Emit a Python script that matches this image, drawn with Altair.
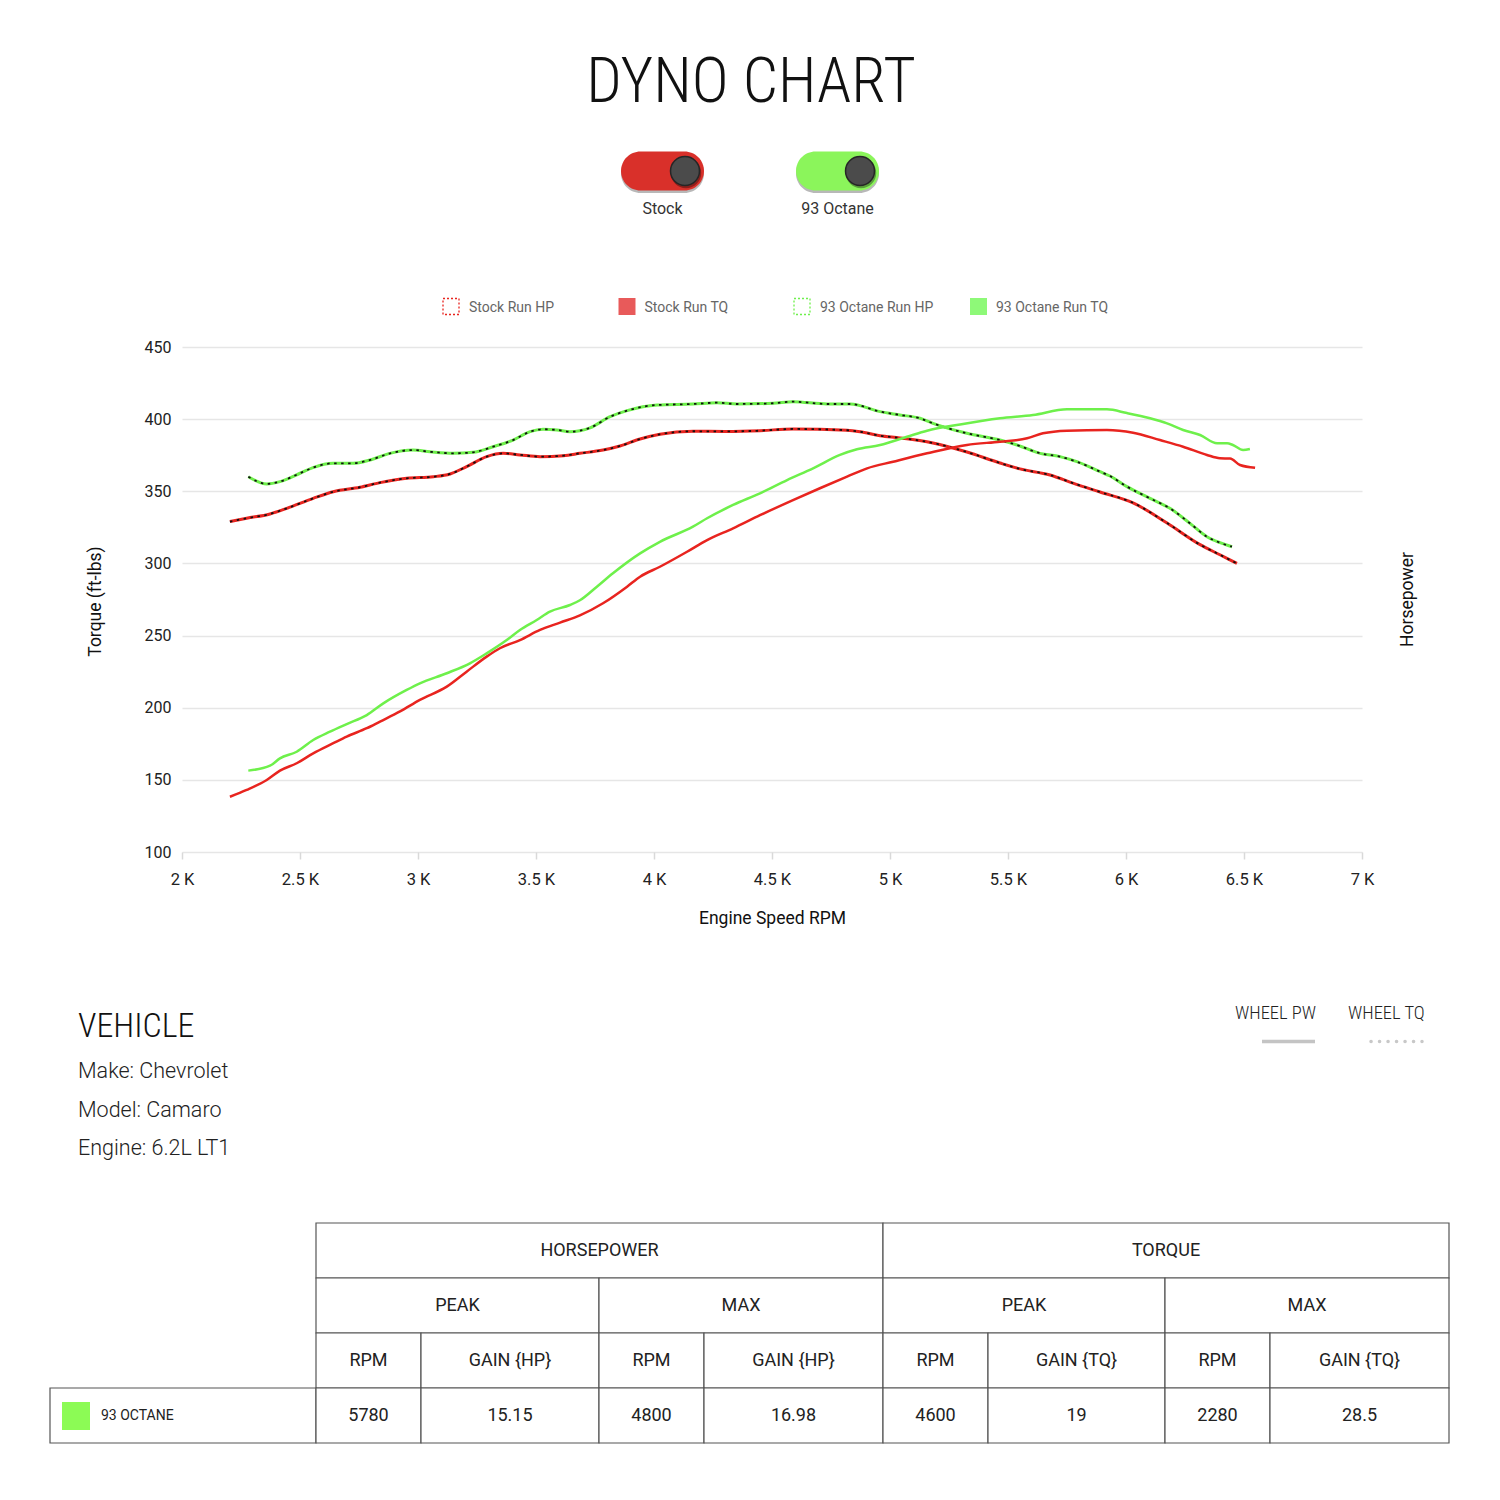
import altair as alt
import pandas as pd

# ---------------- chart values ----------------
chart_title = "DYNO CHART"
toggle_labels = ["Stock", "93 Octane"]
series_names = ["Stock Run HP", "Stock Run TQ", "93 Octane Run HP", "93 Octane Run TQ"]
x_title = "Engine Speed RPM"
y_left_title = "Torque (ft-lbs)"
y_right_title = "Horsepower"
x_ticks = [2000, 2500, 3000, 3500, 4000, 4500, 5000, 5500, 6000, 6500, 7000]
y_ticks = [100, 150, 200, 250, 300, 350, 400, 450]

stock_tq_rpm = [2203, 2274, 2373, 2444, 2556, 2641, 2754, 2839, 2952, 3065,
                3136, 3206, 3291, 3361, 3432, 3517, 3616, 3686, 3784, 3856,
                3941, 4025, 4165, 4300, 4449, 4589, 4818, 4873, 4958, 5042, 5182,
                5326, 5466, 5551, 5678, 5775, 5890, 6030, 6174, 6314, 6398, 6470]
stock_tq = [329, 331.3, 334.3, 338.2, 345.1, 349.7, 352.8, 356, 359, 360.1,
            362, 367.1, 374, 376.3, 375.2, 374, 374.7, 376.3, 378.6, 381.4,
            386.2, 389.5, 391.6, 391.5, 392, 393.2, 392.3, 391.3, 388.5, 387, 383.5,
            377.2, 369.6, 365.5, 361.3, 355.7, 349.5, 342, 328, 313, 306, 300]

octane_tq_rpm = [2281, 2359, 2415, 2500, 2555, 2640, 2725, 2797, 2881, 2979,
                 3051, 3148, 3233, 3318, 3403, 3475, 3530, 3589, 3644, 3729,
                 3814, 3886, 4013, 4165, 4267, 4352, 4504, 4589, 4733, 4831,
                 4958, 5042, 5127, 5182, 5326, 5466, 5538, 5636, 5720, 5792,
                 5890, 5932, 6004, 6102, 6186, 6271, 6343, 6398, 6449]
octane_tq = [360.1, 355.1, 356.7, 362.5, 366.4, 369.4, 369.4, 371.7, 376.3, 378.6,
             377.4, 376.3, 377, 380.9, 385.5, 391.3, 393, 392.5, 391.3, 394,
             401.7, 405.9, 409.8, 410.5, 411.4, 410.5, 411, 412.1, 410.5, 410.5,
             405.2, 402.9, 400.6, 397.1, 390.2, 385.5, 382.1, 376.3, 374, 370.5,
             363.6, 360.6, 353.2, 345.1, 338.2, 327.8, 318.5, 314.4, 311.6]

stock_hp_rpm = [2203, 2274, 2359, 2415, 2486, 2556, 2641, 2698, 2783, 2839,
                2924, 3008, 3122, 3206, 3291, 3347, 3432, 3517, 3602, 3686,
                3784, 3886, 3941, 4025, 4140, 4225, 4335, 4449, 4589, 4703,
                4818, 4903, 5013, 5157, 5326, 5466, 5581, 5648, 5750, 5919,
                6030, 6144, 6242, 6343, 6398, 6441, 6483, 6547]
stock_hp = [138.3, 143, 149.9, 156.4, 161.5, 168.4, 175.4, 180, 185.8, 190.4,
            197.4, 205.4, 214.6, 225, 235.4, 241.2, 246.9, 253.9, 259, 264,
            272.4, 283.9, 290.8, 297.7, 308.1, 316.2, 324.3, 333.4, 343.9, 352.1,
            360.1, 365.9, 370.5, 376.3, 382.1, 384.4, 386.7, 390.2, 392, 392.5,
            390.6, 385.5, 380.9, 375.2, 372.9, 372.7, 368.2, 366.3]

octane_hp_rpm = [2281, 2373, 2415, 2486, 2556, 2627, 2698, 2783, 2853, 2952,
                 3008, 3122, 3220, 3291, 3376, 3432, 3503, 3559, 3644, 3686,
                 3758, 3826, 3941, 4025, 4165, 4225, 4335, 4449, 4564, 4674,
                 4788, 4860, 4958, 5072, 5157, 5297, 5466, 5606, 5750, 5919,
                 6004, 6102, 6174, 6242, 6314, 6386, 6428, 6453, 6496, 6525]
octane_hp = [156.4, 159.8, 164.9, 169.5, 177.6, 183.4, 188.7, 194.9, 203, 212.3,
             216.9, 223.9, 230.8, 237.7, 246.9, 253.9, 260.8, 266.6, 271.2, 274.5,
             283.9, 293.2, 307, 315, 325.5, 331.3, 340.5, 348.6, 357.8, 365.9,
             375.2, 379.1, 382.1, 387.8, 392, 396.3, 400.6, 402.9, 406.8, 406.8,
             404.2, 400.6, 397.1, 392.5, 389, 383.3, 383.3, 382.1, 378.6, 379.3]

vehicle_heading = "VEHICLE"
vehicle_lines = ["Make: Chevrolet", "Model: Camaro", "Engine: 6.2L LT1"]
style_labels = ["WHEEL PW", "WHEEL TQ"]

table_groups = ["HORSEPOWER", "TORQUE"]
table_subgroups = ["PEAK", "MAX", "PEAK", "MAX"]
table_columns = ["RPM", "GAIN {HP}", "RPM", "GAIN {HP}", "RPM", "GAIN {TQ}", "RPM", "GAIN {TQ}"]
table_row_label = "93 OCTANE"
table_row_values = ["5780", "15.15", "4800", "16.98", "4600", "19", "2280", "28.5"]

# ---------------- styles and layout ----------------
FONT = "Roboto, 'Noto Sans', sans-serif"
COND = "'Roboto Condensed', 'Liberation Sans Narrow', 'DejaVu Sans Condensed', sans-serif"
RED = "#e8241f"
GREEN = "#6ef04b"
ORIGIN = 182        # page x of every panel's origin (= left edge of the dyno plot)
PANEL_W = 1290


def panel(top, bottom):
    sx = alt.Scale(domain=[ORIGIN, ORIGIN + PANEL_W], nice=False, zero=False)
    sy = alt.Scale(domain=[top, bottom], reverse=True, nice=False, zero=False)

    def X(f):
        return alt.X(f, type="quantitative", scale=sx, axis=None)

    def Y(f):
        return alt.Y(f, type="quantitative", scale=sy, axis=None)

    return X, Y


def texts(X, Y, xs, ys, ts, **kw):
    df = pd.DataFrame({"x": xs, "y": ys, "t": ts})
    return alt.Chart(df).mark_text(**kw).encode(x=X("x"), y=Y("y"), text="t:N")


def rects(X, Y, x0, x1, y0, y1, **kw):
    df = pd.DataFrame({"x0": x0, "x1": x1, "y0": y0, "y1": y1})
    return alt.Chart(df).mark_rect(**kw).encode(
        x=X("x0"), x2=alt.X2("x1"), y=Y("y0"), y2=alt.Y2("y1"))


# ---------------- header panel ----------------
H_TOP, H_BOT = 8, 330
hX, hY = panel(H_TOP, H_BOT)
header_layers = [
    texts(hX, hY, [751], [102], [chart_title], font=COND, fontSize=62.5, fontWeight=300,
          align="center", baseline="alphabetic", color="#111")
]
toggle_cx = [662.5, 837.5]
toggle_colors = ["#d9302a", "#8bf55b"]
for cx, col in zip(toggle_cx, toggle_colors):
    header_layers.append(rects(hX, hY, [cx - 41.5], [cx + 41.5], [153.5], [193],
                               fill="#000", opacity=0.28, cornerRadius=19.5))
    header_layers.append(rects(hX, hY, [cx - 41.5], [cx + 41.5], [151.5], [190.5],
                               fill=col, cornerRadius=19.5))
    kdf = pd.DataFrame({"x": [cx + 22.5], "y": [171]})
    header_layers.append(alt.Chart(kdf).mark_circle(size=930, color="#000", opacity=0.35)
                         .encode(x=hX("x"), y=hY("y"), xOffset=alt.value(1), yOffset=alt.value(2)))
    header_layers.append(alt.Chart(kdf).mark_circle(size=840, color="#4b4b4b", opacity=1,
                                                    stroke="#262626", strokeWidth=1.5)
                         .encode(x=hX("x"), y=hY("y")))
header_layers.append(texts(hX, hY, toggle_cx, [214, 214], toggle_labels, font=FONT,
                           fontSize=16, align="center", baseline="alphabetic", color="#333"))

legend_box_x = [443, 618.5, 794, 970]
legend_colors = [RED, "#e85a5a", GREEN, "#8ef978"]
for i, name in enumerate(series_names):
    bx = legend_box_x[i]
    if "HP" in name:
        header_layers.append(rects(hX, hY, [bx], [bx + 16], [298.5], [314.5], fill="#fff",
                                   stroke=legend_colors[i], strokeWidth=1.3, strokeDash=[2, 2]))
    else:
        header_layers.append(rects(hX, hY, [bx], [bx + 17], [298], [315], fill=legend_colors[i]))
header_layers.append(texts(hX, hY, [x + 26 for x in legend_box_x], [312] * 4, series_names,
                           font=FONT, fontSize=14, align="left", baseline="alphabetic",
                           color="#666"))
header = alt.layer(*header_layers).properties(width=PANEL_W, height=H_BOT - H_TOP)

# ---------------- main dyno chart ----------------
def long(name, rpm, vals):
    return [{"series": name, "rpm": r, "value": v} for r, v in zip(rpm, vals)]


tq_df = pd.DataFrame(long(series_names[1], stock_tq_rpm, stock_tq)
                     + long(series_names[3], octane_tq_rpm, octane_tq))
hp_df = pd.DataFrame(long(series_names[0], stock_hp_rpm, stock_hp)
                     + long(series_names[2], octane_hp_rpm, octane_hp))

color_scale = alt.Scale(domain=series_names, range=[RED, RED, GREEN, GREEN])
x_scale = alt.Scale(domain=[2000, 7000], nice=False, zero=False)
y_scale = alt.Scale(domain=[100, 450], nice=False, zero=False)

x_axis = alt.Axis(values=x_ticks, labelExpr="datum.value / 1000 + ' K'", grid=False,
                  domain=False, ticks=True, tickSize=7, tickWidth=1.5, tickColor="#d9d9d9",
                  labelPadding=12, labelFontSize=16.5, labelFont=FONT, labelColor="#222",
                  labelFlush=False, title=x_title, titleFont=FONT, titleFontSize=17.5,
                  titleFontWeight="normal", titleColor="#111", titleX=590, titleY=66,
                  titleBaseline="middle", titleAlign="center")
y_left = alt.Axis(values=y_ticks, grid=True, gridColor="#e6e6e6", gridWidth=1.5,
                  domain=False, ticks=False, tickSize=0, labelPadding=11, labelFontSize=16,
                  labelFont=FONT, labelColor="#222", title=y_left_title, titleFont=FONT,
                  titleFontSize=17.5, titleFontWeight="normal", titleColor="#111",
                  titleX=-87, titleY=254, titleAngle=270, titleBaseline="middle",
                  titleAlign="center")
y_right = alt.Axis(orient="right", labels=False, ticks=False, domain=False, grid=False,
                   title=y_right_title, titleFont=FONT, titleFontSize=17.5,
                   titleFontWeight="normal", titleColor="#111", titleX=45, titleY=252,
                   titleAngle=270, titleBaseline="middle", titleAlign="center")

x_enc = alt.X("rpm:Q", scale=x_scale, axis=x_axis)

frame = alt.Chart(pd.DataFrame({"k": [0]})).mark_rule(color="white", strokeWidth=1).encode(
    x=alt.value(-173.5), y=alt.value(-16.5), y2=alt.value(612.5))

tq_lines = alt.Chart(tq_df).mark_line(strokeWidth=3, interpolate="monotone").encode(
    x=x_enc, y=alt.Y("value:Q", scale=y_scale, axis=y_left),
    color=alt.Color("series:N", scale=color_scale, legend=None))
tq_dots = alt.Chart(tq_df).mark_line(strokeWidth=1.8, strokeDash=[2.5, 4.5], color="#111",
                                     interpolate="monotone").encode(
    x=x_enc, y=alt.Y("value:Q", scale=y_scale, axis=None), detail="series:N")
hp_lines = alt.Chart(hp_df).mark_line(strokeWidth=2.5, interpolate="monotone").encode(
    x=x_enc, y=alt.Y("value:Q", scale=y_scale, axis=y_right),
    color=alt.Color("series:N", scale=color_scale, legend=None))

main = alt.layer(frame, tq_lines, tq_dots, hp_lines).resolve_scale(y="independent").properties(
    width=1180, height=505)

# ---------------- vehicle panel ----------------
V_TOP, V_BOT = 960, 1200
vX, vY = panel(V_TOP, V_BOT)
vehicle_layers = [
    texts(vX, vY, [78], [1037], [vehicle_heading], font=COND, fontSize=34, fontWeight=300,
          align="left", baseline="alphabetic", color="#111"),
    texts(vX, vY, [78, 78, 78], [1078, 1117, 1155], vehicle_lines, font=FONT, fontSize=21.5,
          fontWeight=300, align="left", baseline="alphabetic", color="#222"),
    texts(vX, vY, [1235, 1348], [1019, 1019], style_labels, font=COND, fontSize=18.5,
          fontWeight=300, align="left", baseline="alphabetic", color="#222"),
]
bar_df = pd.DataFrame({"x0": [1262], "x1": [1315], "y": [1041.5]})
vehicle_layers.append(alt.Chart(bar_df).mark_rule(color="#c4c4c4", strokeWidth=3.5).encode(
    x=vX("x0"), x2=alt.X2("x1"), y=vY("y")))
dot_df = pd.DataFrame({"x0": [1371], "x1": [1422], "y": [1041.5]})
vehicle_layers.append(alt.Chart(dot_df).mark_rule(color="#c8c8c8", strokeWidth=3.5,
                                                  strokeCap="round", strokeDash=[0.1, 8.4]).encode(
    x=vX("x0"), x2=alt.X2("x1"), y=vY("y")))
vehicle = alt.layer(*vehicle_layers).properties(width=PANEL_W, height=V_BOT - V_TOP)

# ---------------- table panel ----------------
T_TOP, T_BOT = 1200, 1480
tX, tY = panel(T_TOP, T_BOT)
row_edges = [1223, 1278, 1333, 1388, 1443]
col_edges = [316, 421, 599, 704, 883, 988, 1165, 1270, 1449]
sub_edges = col_edges[::2]
grp_edges = col_edges[::4]
label_cell = [50, 316]

cells = []
for i, lab in enumerate(table_groups):
    cells.append((grp_edges[i], grp_edges[i + 1], 0, lab))
for i, lab in enumerate(table_subgroups):
    cells.append((sub_edges[i], sub_edges[i + 1], 1, lab))
for i, lab in enumerate(table_columns):
    cells.append((col_edges[i], col_edges[i + 1], 2, lab))
cells.append((label_cell[0], label_cell[1], 3, ""))
for i, lab in enumerate(table_row_values):
    cells.append((col_edges[i], col_edges[i + 1], 3, lab))
cell_df = pd.DataFrame([{"x0": a, "x1": b, "y0": row_edges[r], "y1": row_edges[r + 1],
                         "xc": (a + b) / 2, "yc": (row_edges[r] + row_edges[r + 1]) / 2,
                         "t": lab} for a, b, r, lab in cells])

table_layers = [
    alt.Chart(cell_df).mark_rect(fill="white", stroke="#555", strokeWidth=1.2).encode(
        x=tX("x0"), x2=alt.X2("x1"), y=tY("y0"), y2=alt.Y2("y1")),
    alt.Chart(cell_df).mark_text(font=FONT, fontSize=18, align="center", baseline="middle",
                                 color="#222").encode(x=tX("xc"), y=tY("yc"), text="t:N"),
    rects(tX, tY, [62], [90], [1402], [1430], fill="#8cfb55"),
    texts(tX, tY, [101], [1416], [table_row_label], font=FONT, fontSize=14, align="left",
          baseline="middle", color="#222"),
]
table = alt.layer(*table_layers).properties(width=PANEL_W, height=T_BOT - T_TOP)

chart = alt.vconcat(header, main, vehicle, table, spacing=0).properties(
    padding=0).configure_view(strokeWidth=0)

chart.save("out.html", embed_options={"renderer": "svg", "actions": False})
